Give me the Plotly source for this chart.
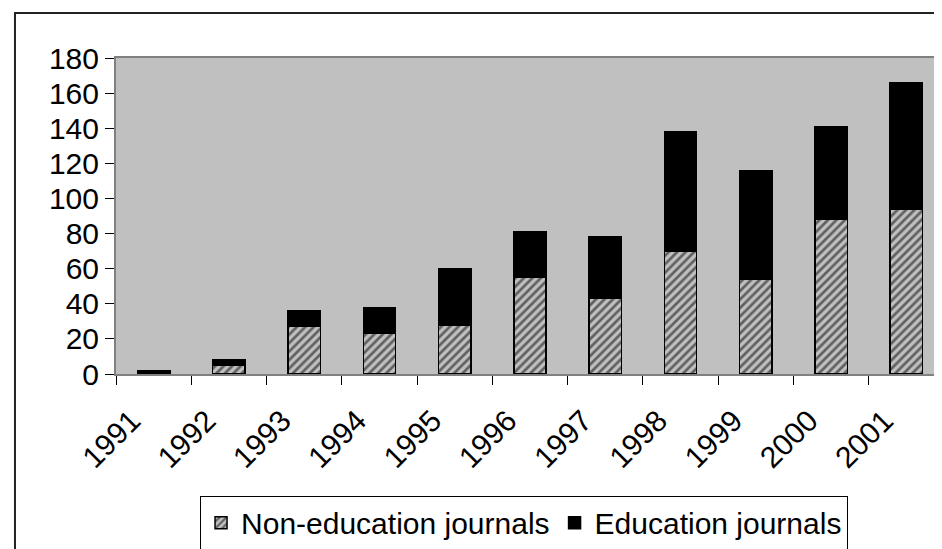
import plotly.graph_objects as go

years = ["1991", "1992", "1993", "1994", "1995", "1996", "1997", "1998", "1999", "2000", "2001"]
non_education = [0, 5, 27, 23, 28, 55, 43, 70, 54, 88, 94]
education = [2, 3, 9, 15, 32, 26, 35, 68, 62, 53, 72]
y_ticks = [0, 20, 40, 60, 80, 100, 120, 140, 160, 180]

FONT = "Liberation Sans, Arial, sans-serif"

fig = go.Figure()
fig.add_trace(go.Bar(
    x=years, y=non_education, name="Non-education journals",
    marker=dict(color="#c0c0c0", line=dict(color="black", width=1.5),
                pattern=dict(shape="/", fgcolor="black", bgcolor="#c0c0c0",
                             size=6, solidity=0.45, fillmode="overlay")),
    width=0.43,
))
fig.add_trace(go.Bar(
    x=years, y=education, name="Education journals",
    marker=dict(color="black", line=dict(color="black", width=1.5)),
    width=0.43,
))

fig.update_layout(
    width=942, height=549,
    margin=dict(l=108, r=6, t=50, b=183, autoexpand=False),
    barmode="stack",
    paper_bgcolor="white",
    plot_bgcolor="#c0c0c0",
    font=dict(family=FONT, size=30, color="black"),
    showlegend=True,
    legend=dict(
        orientation="h", x=0.4928, xanchor="center", y=-0.385, yanchor="top",
        font=dict(size=30), bordercolor="black", borderwidth=1,
        bgcolor="white", traceorder="normal", itemwidth=30,
    ),
    xaxis=dict(
        type="category", tickangle=-45, tickson="boundaries",
        ticks="outside", ticklen=9, tickcolor="black", tickwidth=1,
        showline=True, linecolor="#808080", linewidth=2, mirror=True,
        showgrid=False, ticklabelstandoff=15, ticklabelshift=-22,
        tickfont=dict(size=30), automargin=False,
    ),
    yaxis=dict(
        range=[0, 180], tickvals=y_ticks, ticks="outside", ticklen=9,
        tickcolor="black", tickwidth=1,
        showline=True, linecolor="#808080", linewidth=2, mirror=True,
        showgrid=False, zeroline=False, tickfont=dict(size=30), automargin=False,
    ),
    shapes=[dict(type="rect", xref="paper", yref="paper",
                 x0=-0.122, x1=1.2, y0=-1.0, y1=1.1424,
                 line=dict(color="#222222", width=2), layer="below")],
)

fig.write_html("out.html")
